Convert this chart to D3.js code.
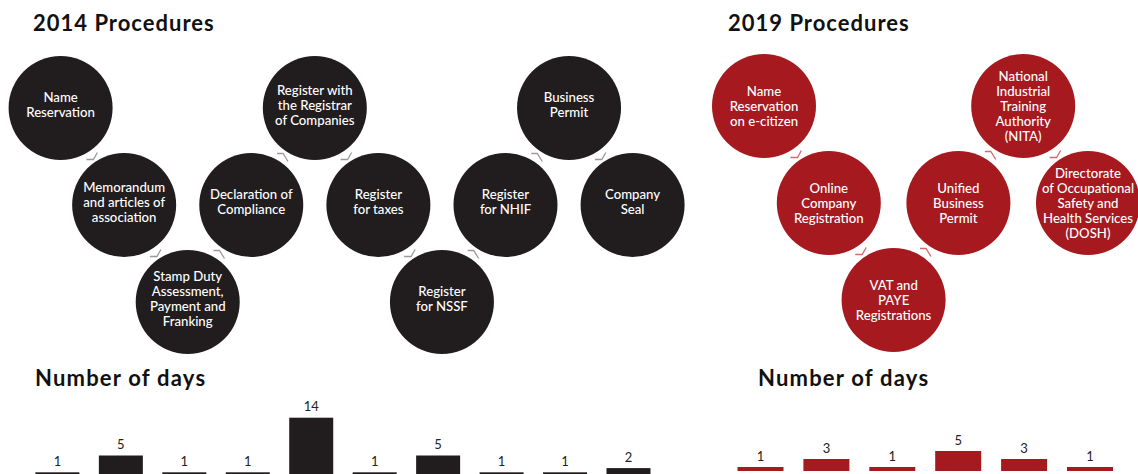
<!DOCTYPE html>
<html><head><meta charset="utf-8">
<script src="https://cdn.jsdelivr.net/npm/d3@7"></script>
<style>body{margin:0;background:#fff} svg{display:block}</style>
</head><body>
<svg id="c" width="1138" height="474"></svg>
<script>
// ---- data ----
const steps2014 = [["Name","Reservation"],["Memorandum","and articles of","association"],["Stamp Duty","Assessment,","Payment and","Franking"],["Declaration of","Compliance"],["Register with","the Registrar","of Companies"],["Register","for taxes"],["Register","for NSSF"],["Register","for NHIF"],["Business","Permit"],["Company","Seal"]];
const rows2014 = [0,1,2,1,0,1,2,1,0,1];
const days2014 = [1,5,1,1,14,1,5,1,1,2];

const steps2019 = [["Name","Reservation","on e-citizen"],["Online","Company","Registration"],["VAT and","PAYE","Registrations"],["Unified","Business","Permit"],["National","Industrial","Training","Authority","(NITA)"],["Directorate","of Occupational","Safety and","Health Services","(DOSH)"]];
const rows2019 = [0,1,2,1,0,1];
const days2019 = [1,3,1,5,3,1];

const titles = ["2014 Procedures","2019 Procedures"];
const subtitles = ["Number of days","Number of days"];

// ---- layout ----
const svg = d3.select("#c");
const FONT = "Lato, 'Open Sans', sans-serif";

const panels = [
  {steps: steps2014, rows: rows2014, days: days2014, title: titles[0], sub: subtitles[0],
   fill: "#211d1e", chev: "#9a9a9a",
   cx: [60.6, 632.6], cy: [108, 302], r: 52, textOff: -3,
   bx: [57.4, 628.5], bw: 44, by: [476.5, 417.7], ymax: 14,
   tx: 33, ty: 31, sx: 35, sy: 386},
  {steps: steps2019, rows: rows2019, days: days2019, title: titles[1], sub: subtitles[1],
   fill: "#a5191f", chev: "#d46a6e",
   cx: [764, 1088], cy: [106, 300], r: 52, textOff: 0,
   bx: [760.5, 1090], bw: 46, by: [471, 451], ymax: 5,
   tx: 728, ty: 31, sx: 758, sy: 386}
];

panels.forEach(p => {
  const g = svg.append("g");
  const idx = d3.range(p.steps.length);
  const x = d3.scalePoint().domain(idx).range(p.cx);
  const y = d3.scalePoint().domain([0,1,2]).range(p.cy);

  g.append("text").attr("x", p.tx).attr("y", p.ty).text(p.title)
    .attr("font-family", FONT).attr("font-weight", 700).attr("font-size", 22)
    .attr("letter-spacing", 1).attr("fill", "#111");
  g.append("text").attr("x", p.sx).attr("y", p.sy).text(p.sub)
    .attr("font-family", FONT).attr("font-weight", 700).attr("font-size", 22)
    .attr("letter-spacing", 1.2).attr("fill", "#111");

  // connectors (small chevrons between consecutive circles)
  const pairs = idx.slice(1).map(i => [i-1, i]);
  g.selectAll("path.chev").data(pairs).join("path").attr("class","chev")
    .attr("d", ([a,b]) => {
      const mx = (x(a)+x(b))/2, my = (y(p.rows[a])+y(p.rows[b]))/2;
      const down = p.rows[b] > p.rows[a];
      return down
        ? `M${mx-6},${my+3}L${mx+1},${my+3}L${mx+5},${my-4}`
        : `M${mx-6},${my-3}L${mx},${my-3}L${mx+5},${my+5}`;
    })
    .attr("fill","none").attr("stroke", p.chev).attr("stroke-width", 1.3);

  const node = g.selectAll("g.node").data(idx).join("g").attr("class","node")
    .attr("transform", i => `translate(${x(i)},${y(p.rows[i])})`);
  node.append("circle").attr("r", p.r).attr("fill", p.fill);
  node.each(function(i){
    const lines = p.steps[i];
    const lh = 15;
    const t = d3.select(this).append("text")
      .attr("text-anchor","middle").attr("fill","#fff")
      .attr("font-family", FONT).attr("font-size", 13.2).attr("font-weight", 500);
    lines.forEach((l, k) => {
      t.append("tspan").attr("x", 0)
        .attr("y", p.textOff + (k - (lines.length-1)/2) * lh + 4.5)
        .text(l);
    });
  });

  // bars
  const bx = d3.scalePoint().domain(idx).range(p.bx);
  const by = d3.scaleLinear().domain([0, p.ymax]).range(p.by);
  g.selectAll("rect.bar").data(idx).join("rect").attr("class","bar")
    .attr("x", i => bx(i) - p.bw/2).attr("width", p.bw)
    .attr("y", i => by(p.days[i])).attr("height", i => by(0) - by(p.days[i]))
    .attr("fill", p.fill);
  g.selectAll("text.lab").data(idx).join("text").attr("class","lab")
    .attr("x", i => bx(i)).attr("y", i => by(p.days[i]) - 6.5)
    .attr("text-anchor","middle").attr("font-family", FONT).attr("font-size", 13)
    .attr("fill","#222").text(i => p.days[i]);
});
</script>
</body></html>
